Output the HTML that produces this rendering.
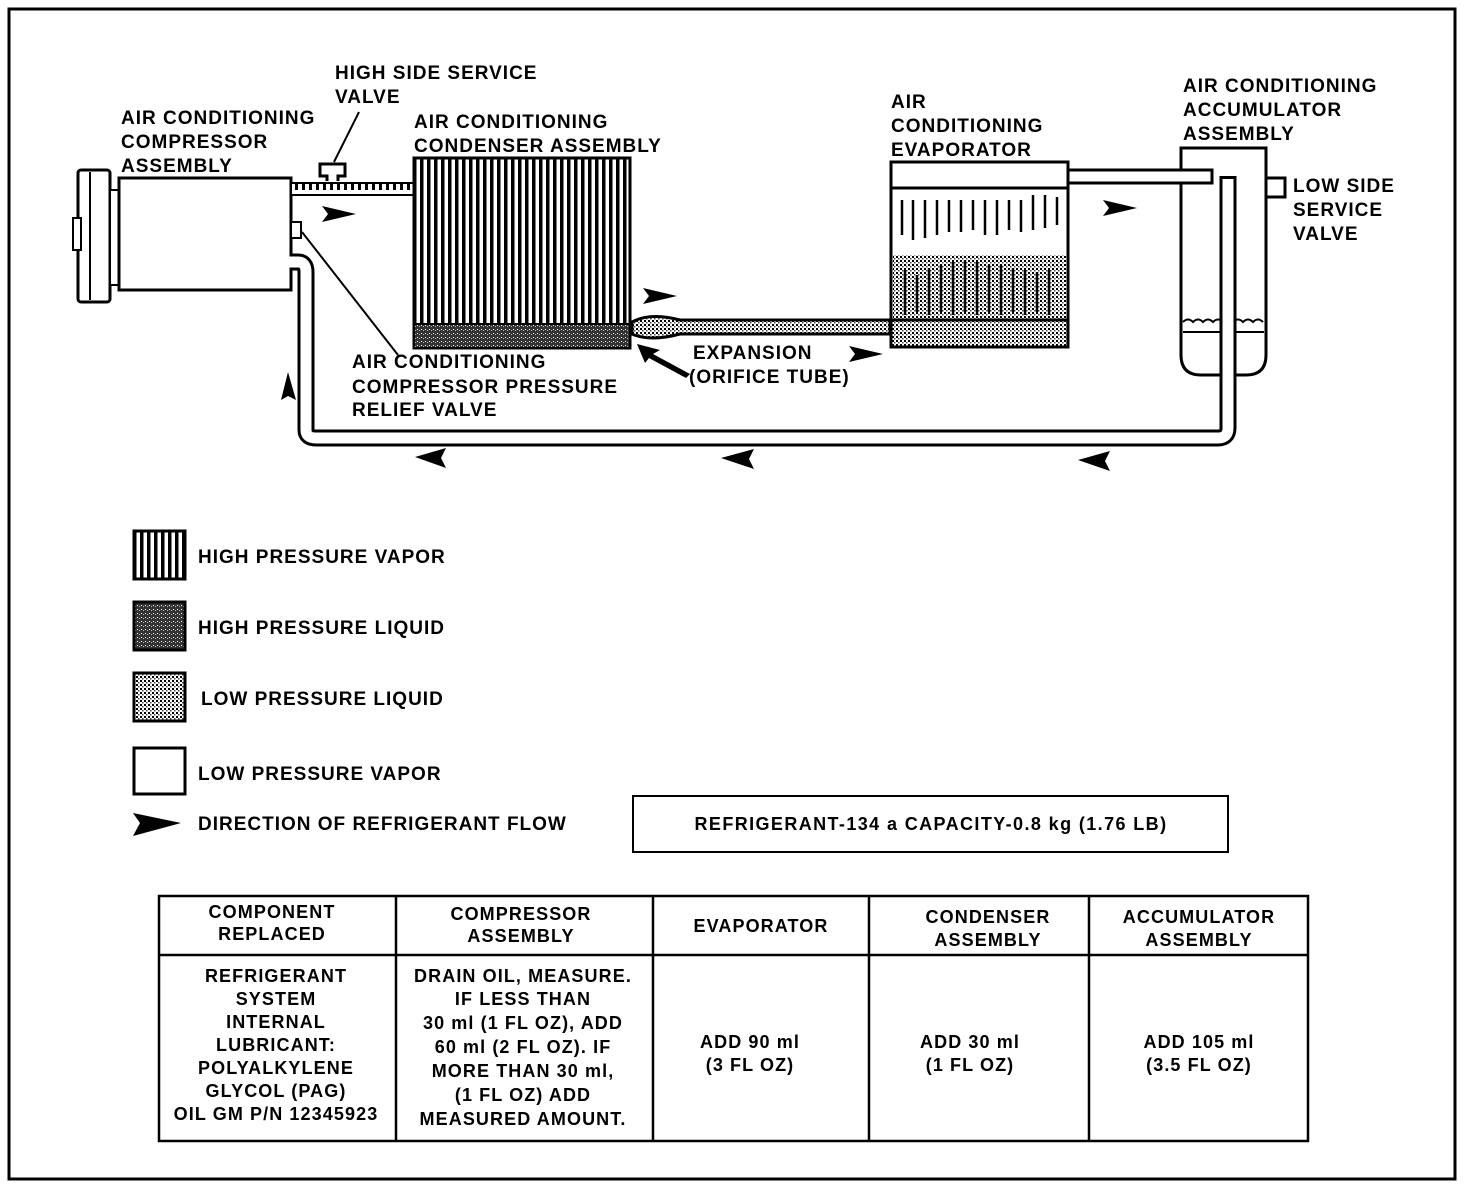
<!DOCTYPE html>
<html><head><meta charset="utf-8"><style>
html,body{margin:0;padding:0;background:#fff;}
svg{display:block;}
text{font-family:"Liberation Sans",sans-serif;font-weight:bold;font-size:19px;letter-spacing:1px;fill:#000;}
.t{font-size:18px;letter-spacing:1.1px;}
</style></head><body>
<svg width="1472" height="1192" viewBox="0 0 1472 1192" xmlns="http://www.w3.org/2000/svg">
<defs>
<pattern id="vl" width="7" height="10" patternUnits="userSpaceOnUse"><rect width="7" height="10" fill="#fff"/><rect x="0" width="3.5" height="10" fill="#000"/></pattern>
<pattern id="dk" width="4" height="4" patternUnits="userSpaceOnUse"><rect width="4" height="4" fill="#333"/><rect x="1" y="1" width="1" height="1" fill="#fff"/><rect x="3" y="2" width="1" height="1" fill="#bbb"/></pattern>
<pattern id="dt" width="4" height="4" patternUnits="userSpaceOnUse"><rect width="4" height="4" fill="#fff"/><rect width="2" height="2" fill="#000"/><rect x="2" y="2" width="1.5" height="1.5" fill="#444"/></pattern>
<pattern id="hp" width="7" height="12" patternUnits="userSpaceOnUse"><rect width="7" height="12" fill="#fff"/><rect x="1" y="2" width="3" height="8" fill="#000"/></pattern>
</defs>
<rect x="9" y="9" width="1446" height="1170" fill="none" stroke="#000" stroke-width="3"/>

<!-- compressor -->
<rect x="78" y="170" width="32" height="132" fill="#fff" stroke="#000" stroke-width="3" rx="3"/>
<line x1="90" y1="172" x2="90" y2="300" stroke="#000" stroke-width="2"/>
<rect x="73" y="218" width="8" height="32" fill="#fff" stroke="#000" stroke-width="2"/>
<rect x="110" y="190" width="10" height="95" fill="#fff" stroke="#000" stroke-width="2"/>
<rect x="119" y="178" width="172" height="112" fill="#fff" stroke="#000" stroke-width="3"/>
<rect x="291" y="222" width="10" height="16" fill="#fff" stroke="#000" stroke-width="2"/>
<!-- high side pipe -->
<rect x="291" y="183" width="124" height="12" fill="url(#hp)" stroke="#000" stroke-width="2"/>
<path d="M327 181 V176 H320 V164 H345 V176 H338 V181" fill="#fff" stroke="#000" stroke-width="3"/>
<line x1="334" y1="162" x2="359" y2="112" stroke="#000" stroke-width="2"/>
<!-- condenser -->
<rect x="414" y="158" width="216" height="190" fill="url(#vl)" stroke="#000" stroke-width="3"/>
<rect x="414" y="324" width="216" height="24" fill="url(#dk)" stroke="#000" stroke-width="2"/>
<!-- orifice tube -->
<path d="M632 322 Q650 312 680 320 H890 V334 H680 Q650 342 632 334 Z" fill="url(#dt)" stroke="#000" stroke-width="3"/>
<line x1="302" y1="232" x2="398" y2="355" stroke="#000" stroke-width="2"/>
<path d="M637 344 L660 350 L653 354 L690 374 L686 378 L649 358 L645 363 Z" fill="#000"/>
<!-- evaporator -->
<rect x="891" y="162" width="177" height="185" fill="#fff" stroke="#000" stroke-width="3"/>
<line x1="891" y1="188" x2="1068" y2="188" stroke="#000" stroke-width="3"/>
<rect x="893" y="255" width="173" height="64" fill="url(#dt)"/>
<g stroke="#000" stroke-width="2.5">
<line x1="902" y1="200" x2="902" y2="235"/><line x1="913" y1="200" x2="913" y2="240"/><line x1="925" y1="200" x2="925" y2="238"/><line x1="937" y1="200" x2="937" y2="235"/><line x1="949" y1="200" x2="949" y2="232"/><line x1="961" y1="200" x2="961" y2="232"/><line x1="973" y1="200" x2="973" y2="230"/><line x1="985" y1="200" x2="985" y2="235"/><line x1="997" y1="200" x2="997" y2="235"/><line x1="1009" y1="200" x2="1009" y2="230"/><line x1="1021" y1="200" x2="1021" y2="232"/><line x1="1033" y1="195" x2="1033" y2="230"/><line x1="1045" y1="195" x2="1045" y2="228"/><line x1="1057" y1="197" x2="1057" y2="225"/>
<line x1="905" y1="270" x2="905" y2="315"/><line x1="917" y1="275" x2="917" y2="312"/><line x1="929" y1="268" x2="929" y2="315"/><line x1="941" y1="265" x2="941" y2="312"/><line x1="953" y1="262" x2="953" y2="315"/><line x1="965" y1="260" x2="965" y2="312"/><line x1="977" y1="262" x2="977" y2="315"/><line x1="989" y1="265" x2="989" y2="312"/><line x1="1001" y1="265" x2="1001" y2="315"/><line x1="1013" y1="268" x2="1013" y2="312"/><line x1="1025" y1="270" x2="1025" y2="315"/><line x1="1037" y1="272" x2="1037" y2="312"/><line x1="1049" y1="270" x2="1049" y2="315"/>
</g>
<rect x="891" y="320" width="177" height="27" fill="url(#dt)" stroke="#000" stroke-width="3"/>
<!-- accumulator -->
<path d="M1181 148 H1266 V355 Q1266 375 1246 375 H1201 Q1181 375 1181 355 Z" fill="#fff" stroke="#000" stroke-width="3"/>
<path d="M1183 322 q5 -5 10 0 q5 -5 10 0 q5 -5 10 0 q5 -5 10 0 q5 -5 10 0 q5 -5 10 0 q5 -5 10 0 q5 -5 10 0 M1183 332 H1264" fill="none" stroke="#000" stroke-width="2"/>
<rect x="1068" y="170" width="144" height="13" fill="#fff" stroke="#000" stroke-width="3"/>
<rect x="1266" y="178" width="19" height="19" fill="#fff" stroke="#000" stroke-width="3"/>

<!-- return pipe (drawn over accumulator) -->
<path d="M290 262 H298 Q306 262 306 272 V430 Q306 438 316 438 H1218 Q1228 438 1228 428 V176" fill="none" stroke="#000" stroke-width="17"/>
<path d="M288 262 H298 Q306 262 306 272 V430 Q306 438 316 438 H1218 Q1228 438 1228 428 V179" fill="none" stroke="#fff" stroke-width="11"/>

<!-- arrows -->
<g fill="#000">
<path d="M322 206 L356 214 L322 222 L328 214 Z"/>
<path d="M643 288 L677 296 L643 304 L649 296 Z"/>
<path d="M849 346 L883 354 L849 362 L855 354 Z"/>
<path d="M1103 200 L1137 208 L1103 216 L1109 208 Z"/>
<path d="M133 813 L181 823 L133 836 L140 823 Z"/>
<path d="M288 372 L296 400 L288 396 L281 400 Z"/>
<path d="M415 457 L446 448 L441 458 L446 468 Z"/>
<path d="M721 458 L754 449 L749 459 L754 469 Z"/>
<path d="M1078 460 L1110 451 L1105 461 L1110 471 Z"/>
</g>

<!-- labels -->
<text x="335" y="79">HIGH SIDE SERVICE</text>
<text x="335" y="103">VALVE</text>
<text x="121" y="124">AIR CONDITIONING</text>
<text x="121" y="148">COMPRESSOR</text>
<text x="121" y="172">ASSEMBLY</text>
<text x="414" y="128">AIR CONDITIONING</text>
<text x="414" y="152">CONDENSER ASSEMBLY</text>
<text x="891" y="108">AIR</text>
<text x="891" y="132">CONDITIONING</text>
<text x="891" y="156">EVAPORATOR</text>
<text x="1183" y="92">AIR CONDITIONING</text>
<text x="1183" y="116">ACCUMULATOR</text>
<text x="1183" y="140">ASSEMBLY</text>
<text x="1293" y="192">LOW SIDE</text>
<text x="1293" y="216">SERVICE</text>
<text x="1293" y="240">VALVE</text>
<text x="352" y="368">AIR CONDITIONING</text>
<text x="352" y="393">COMPRESSOR PRESSURE</text>
<text x="352" y="416">RELIEF VALVE</text>
<text x="693" y="359">EXPANSION</text>
<text x="689" y="383">(ORIFICE TUBE)</text>

<!-- legend -->
<rect x="134" y="531" width="51" height="48" fill="url(#vl)" stroke="#000" stroke-width="3"/>
<rect x="134" y="602" width="51" height="48" fill="url(#dk)" stroke="#000" stroke-width="3"/>
<rect x="134" y="673" width="51" height="48" fill="url(#dt)" stroke="#000" stroke-width="3"/>
<rect x="134" y="748" width="51" height="46" fill="#fff" stroke="#000" stroke-width="3"/>
<text x="198" y="563">HIGH PRESSURE VAPOR</text>
<text x="198" y="634">HIGH PRESSURE LIQUID</text>
<text x="201" y="705">LOW PRESSURE LIQUID</text>
<text x="198" y="780">LOW PRESSURE VAPOR</text>
<text x="198" y="830">DIRECTION OF REFRIGERANT FLOW</text>
<rect x="633" y="796" width="595" height="56" fill="#fff" stroke="#000" stroke-width="2"/>
<text x="931" y="830" text-anchor="middle" class="t" style="letter-spacing:1.4px">REFRIGERANT-134 a  CAPACITY-0.8 kg (1.76 LB)</text>

<!-- table -->
<g fill="none" stroke="#000" stroke-width="2.5">
<rect x="159" y="896" width="1149" height="245"/>
<line x1="159" y1="955" x2="1308" y2="955"/>
<line x1="396" y1="896" x2="396" y2="1141"/>
<line x1="653" y1="896" x2="653" y2="1141"/>
<line x1="869" y1="896" x2="869" y2="1141"/>
<line x1="1089" y1="896" x2="1089" y2="1141"/>
</g>
<g text-anchor="middle">
<text class="t" x="272" y="918">COMPONENT</text>
<text class="t" x="272" y="940">REPLACED</text>
<text class="t" x="521" y="920">COMPRESSOR</text>
<text class="t" x="521" y="942">ASSEMBLY</text>
<text class="t" x="761" y="932">EVAPORATOR</text>
<text class="t" x="988" y="923">CONDENSER</text>
<text class="t" x="988" y="946">ASSEMBLY</text>
<text class="t" x="1199" y="923">ACCUMULATOR</text>
<text class="t" x="1199" y="946">ASSEMBLY</text>
<text class="t" x="276" y="982">REFRIGERANT</text>
<text class="t" x="276" y="1005">SYSTEM</text>
<text class="t" x="276" y="1028">INTERNAL</text>
<text class="t" x="276" y="1051">LUBRICANT:</text>
<text class="t" x="276" y="1074">POLYALKYLENE</text>
<text class="t" x="276" y="1097">GLYCOL (PAG)</text>
<text class="t" x="276" y="1120">OIL GM P/N 12345923</text>
<text class="t" x="523" y="982">DRAIN OIL, MEASURE.</text>
<text class="t" x="523" y="1005">IF LESS THAN</text>
<text class="t" x="523" y="1029">30 ml (1 FL OZ), ADD</text>
<text class="t" x="523" y="1053">60 ml (2 FL OZ).  IF</text>
<text class="t" x="523" y="1077">MORE THAN 30  ml,</text>
<text class="t" x="523" y="1101">(1 FL OZ) ADD</text>
<text class="t" x="523" y="1125">MEASURED AMOUNT.</text>
<text class="t" x="750" y="1048">ADD 90 ml</text>
<text class="t" x="750" y="1071">(3 FL OZ)</text>
<text class="t" x="970" y="1048">ADD 30 ml</text>
<text class="t" x="970" y="1071">(1 FL OZ)</text>
<text class="t" x="1199" y="1048">ADD 105 ml</text>
<text class="t" x="1199" y="1071">(3.5 FL OZ)</text>
</g>
</svg>
</body></html>
